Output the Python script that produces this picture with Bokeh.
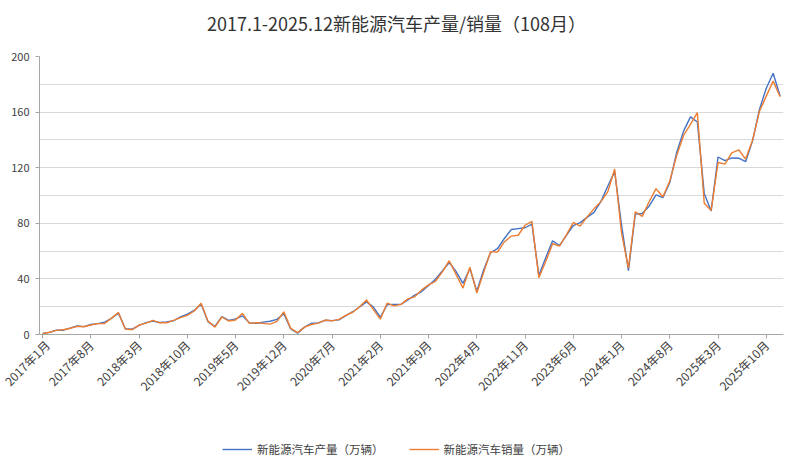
import math
from bokeh.plotting import figure
from bokeh.layouts import column
from bokeh.models import Range1d, FixedTicker, Legend, LegendItem, ColumnDataSource
from bokeh.core.properties import value
from bokeh.embed import file_html
from bokeh.resources import INLINE

months = [f"{y}年{m}月" for y in range(2017, 2026) for m in range(1, 13)]

production = [0.7, 1.5, 3.1, 3.1, 4.6, 6.1, 5.7, 7.2, 7.8, 8.9, 11.7, 15.4,
              4.1, 3.9, 6.6, 8.5, 9.6, 8.6, 9.1, 9.9, 12.7, 14.6, 17.3, 22.0,
              9.1, 5.9, 12.8, 10.2, 11.2, 13.4, 8.4, 8.0, 8.9, 9.5, 10.9, 14.9,
              4.0, 1.0, 5.3, 8.1, 8.4, 10.2, 10.0, 10.5, 13.6, 16.4, 19.8, 23.5,
              19.7, 12.4, 21.5, 21.7, 21.7, 24.8, 28.4, 30.9, 35.3, 39.7, 45.7, 51.8,
              45.2, 36.8, 47.5, 31.2, 46.6, 59.0, 61.7, 69.1, 75.5, 76.2, 76.8, 79.4,
              42.5, 55.2, 67.4, 64.0, 71.3, 78.4, 80.5, 84.3, 87.9, 95.6, 106.7, 117.2,
              78.7, 46.0, 86.7, 87.0, 92.3, 100.4, 98.4, 109.3, 131.0, 146.3, 156.6, 152.9,
              101.5, 88.8, 127.7, 125.1, 127.0, 126.8, 124.3, 139.1, 161.7, 177.2, 188.0, 171.6]

sales = [0.5, 1.6, 3.0, 3.4, 4.5, 5.9, 5.6, 6.8, 7.8, 7.9, 11.8, 15.8,
         4.0, 3.4, 6.8, 8.2, 10.2, 8.4, 8.4, 10.1, 12.1, 13.8, 16.9, 22.5,
         9.6, 5.3, 12.6, 9.7, 10.4, 15.2, 8.0, 8.5, 8.0, 7.5, 9.5, 16.3,
         4.4, 1.3, 5.3, 7.2, 8.2, 10.4, 9.8, 10.9, 13.8, 16.0, 20.0, 24.8,
         17.9, 11.0, 22.6, 20.6, 21.7, 25.6, 27.1, 32.1, 35.7, 38.3, 45.0, 53.1,
         43.1, 33.4, 48.4, 29.9, 44.7, 59.6, 59.3, 66.6, 70.8, 71.4, 78.6, 81.4,
         40.8, 52.5, 65.3, 63.6, 71.7, 80.6, 78.0, 84.6, 90.4, 95.6, 102.6, 119.1,
         72.9, 47.7, 88.3, 85.0, 95.5, 104.9, 99.1, 110.4, 128.7, 143.2, 151.2, 159.6,
         94.4, 89.2, 123.7, 122.6, 130.7, 132.9, 126.2, 139.5, 160.4, 171.5, 182.3, 171.0]

series_names = ["新能源汽车产量（万辆）", "新能源汽车销量（万辆）"]
series_colors = ["#4472C4", "#ED7D31"]
title_text = "2017.1-2025.12新能源汽车产量/销量（108月）"
y_ticks = [0, 40, 80, 120, 160, 200]
grid_ticks = list(range(0, 201, 20))
x_tick_idx = list(range(0, 108, 7))

FONT = "Noto Sans CJK SC"
TXT = "#404040"
AX = "#a6a6a6"


def strip(height):
    f = figure(width=793, height=height, output_backend="svg", toolbar_location=None,
               x_range=Range1d(39, 783), y_range=Range1d(height, 0),
               x_axis_type=None, y_axis_type=None,
               min_border_left=0, min_border_right=0, min_border_top=0, min_border_bottom=0)
    f.outline_line_color = None
    f.grid.visible = False
    f.background_fill_color = "white"
    f.border_fill_color = "white"
    return f


# title strip
tf = strip(40)
tf.text(x=[396], y=[22], text=[title_text], text_align="center", text_baseline="middle",
        text_font=value(FONT), text_font_size="18px", text_color="#333333")

# main chart
src = ColumnDataSource(dict(x=list(range(len(months))), prod=production, sale=sales))

p = figure(width=793, height=390, output_backend="svg", toolbar_location=None,
           x_range=Range1d(-0.45, 107.5), y_range=Range1d(0, 200),
           min_border_left=39, min_border_right=10, min_border_top=16, min_border_bottom=96)
p.outline_line_color = None
p.background_fill_color = "white"
p.border_fill_color = "white"

p.line("x", "prod", source=src, line_color=series_colors[0], line_width=1.4)
p.line("x", "sale", source=src, line_color=series_colors[1], line_width=1.4)

p.xaxis.ticker = FixedTicker(ticks=x_tick_idx)
p.xaxis.major_label_overrides = {i: months[i] for i in x_tick_idx}
p.xaxis.major_label_orientation = math.pi / 4
p.yaxis.ticker = FixedTicker(ticks=y_ticks)
for ax in (p.xaxis, p.yaxis):
    ax.axis_line_color = AX
    ax.major_tick_line_color = AX
    ax.major_tick_out = 4
    ax.major_tick_in = 0
    ax.minor_tick_line_color = None
    ax.major_label_text_font = FONT
    ax.major_label_text_color = TXT
p.xaxis.major_label_text_font_size = "12px"
p.xaxis.major_label_standoff = 4
p.yaxis.major_label_text_font_size = "11px"
p.yaxis.major_label_standoff = 6
p.xgrid.visible = False
p.ygrid.ticker = FixedTicker(ticks=grid_ticks)
p.ygrid.grid_line_color = "#d9d9d9"

# legend strip below the chart
lf = strip(42)
d1 = lf.line(x=[0, 1], y=[-50, -60], line_color=series_colors[0], line_width=1.4)
d2 = lf.line(x=[0, 1], y=[-50, -60], line_color=series_colors[1], line_width=1.4)
legend = Legend(items=[LegendItem(label=series_names[0], renderers=[d1]),
                       LegendItem(label=series_names[1], renderers=[d2])],
                location=(183, 15), orientation="horizontal",
                border_line_color=None, background_fill_alpha=0,
                padding=0, margin=0, spacing=25, glyph_width=30, glyph_height=12,
                label_standoff=5, label_height=16, label_text_font=FONT,
                label_text_font_size="11.5px", label_text_color=TXT)
lf.add_layout(legend)

layout = column(tf, p, lf, spacing=0)
open("out.html", "w").write(file_html(layout, INLINE))
